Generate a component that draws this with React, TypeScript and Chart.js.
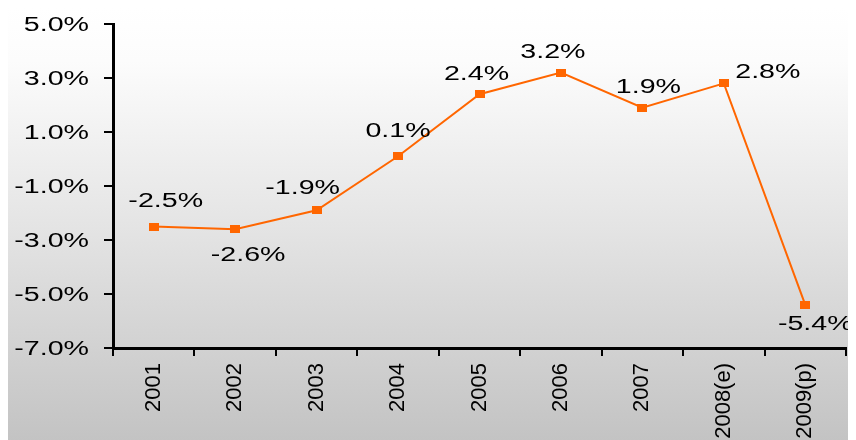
import React, { useEffect, useRef } from "react";
import { Chart, registerables } from "chart.js";

Chart.register(...registerables);

const categories = ["2001", "2002", "2003", "2004", "2005", "2006", "2007", "2008(e)", "2009(p)"];
const growth = [-2.5, -2.6, -1.9, 0.1, 2.4, 3.2, 1.9, 2.8, -5.4];
const yMin = -7;
const yMax = 5;
const yStep = 2;
// label placement relative to each point (dx, dy)
const labelOffsets: [number, number][] = [
  [12, -26], [13, 25], [-14, -23], [0, -26], [-3, -21], [-8, -21], [6, -21], [44, -12], [10, 19],
];

const FONT = '"Liberation Sans", Arial, sans-serif';
const STRETCH = 1.43;
const ORANGE = "#FF6600";

function makeMarker() {
  const c = document.createElement("canvas");
  c.width = 10;
  c.height = 8;
  const g = c.getContext("2d")!;
  g.fillStyle = ORANGE;
  g.fillRect(0, 0, 10, 8);
  return c;
}

const textPlugin = {
  id: "stretchedText",
  afterDraw(chart: any) {
    const ctx = chart.ctx as CanvasRenderingContext2D;
    const ys = chart.scales.y;
    ctx.save();
    ctx.fillStyle = "#000";
    ctx.font = `20px ${FONT}`;
    ctx.textBaseline = "middle";
    // y-axis tick labels
    ctx.textAlign = "right";
    for (const t of ys.ticks) {
      const y = ys.getPixelForValue(t.value);
      ctx.save();
      ctx.translate(ys.right - 24, y + 1);
      ctx.scale(STRETCH, 1);
      ctx.fillText(t.value.toFixed(1) + "%", 0, 0);
      ctx.restore();
    }
    // data labels
    ctx.textAlign = "center";
    const meta = chart.getDatasetMeta(0);
    meta.data.forEach((pt: any, i: number) => {
      const [dx, dy] = labelOffsets[i];
      ctx.save();
      ctx.translate(pt.x + dx, pt.y + dy + 1);
      ctx.scale(STRETCH, 1);
      ctx.fillText(growth[i].toFixed(1) + "%", 0, 0);
      ctx.restore();
    });
    ctx.restore();
  },
};

export default function App() {
  const ref = useRef<HTMLCanvasElement>(null);
  useEffect(() => {
    if (!ref.current) return;
    const marker = makeMarker();
    const chart = new Chart(ref.current, {
      type: "line",
      data: {
        labels: categories,
        datasets: [
          {
            data: growth,
            borderColor: ORANGE,
            backgroundColor: ORANGE,
            borderWidth: 2,
            pointStyle: marker as any,
            pointRadius: 5,
            tension: 0,
          },
        ],
      },
      options: {
        animation: false,
        responsive: true,
        maintainAspectRatio: false,
        layout: { padding: { top: 16, right: 18, left: 0, bottom: 0 } },
        plugins: { legend: { display: false }, tooltip: { enabled: false } },
        scales: {
          x: {
            offset: true,
            grid: {
              offset: true,
              drawOnChartArea: false,
              drawTicks: true,
              tickLength: 8,
              color: "#000",
              lineWidth: 2,
            },
            border: { display: true, color: "#000", width: 3 },
            ticks: {
              autoSkip: false,
              minRotation: 90,
              maxRotation: 90,
              padding: 7,
              color: "#000",
              font: { family: FONT, size: 22 },
            },
            afterFit(scale: any) {
              scale.height = 100;
            },
          },
          y: {
            min: yMin,
            max: yMax,
            grid: {
              drawOnChartArea: false,
              drawTicks: true,
              tickLength: 9,
              color: "#000",
              lineWidth: 2,
            },
            border: { display: true, color: "#000", width: 3 },
            ticks: { stepSize: yStep, display: false },
            afterFit(scale: any) {
              scale.width = 105;
            },
          },
        },
      },
      plugins: [textPlugin],
    });
    return () => chart.destroy();
  }, []);
  return (
    <div
      style={{
        width: 856,
        height: 440,
        background:
          "linear-gradient(to bottom, #ffffff 0%, #fcfcfc 12%, #e4e4e4 50%, #c2c2c2 100%)",
      }}
    >
      <canvas ref={ref} />
    </div>
  );
}
